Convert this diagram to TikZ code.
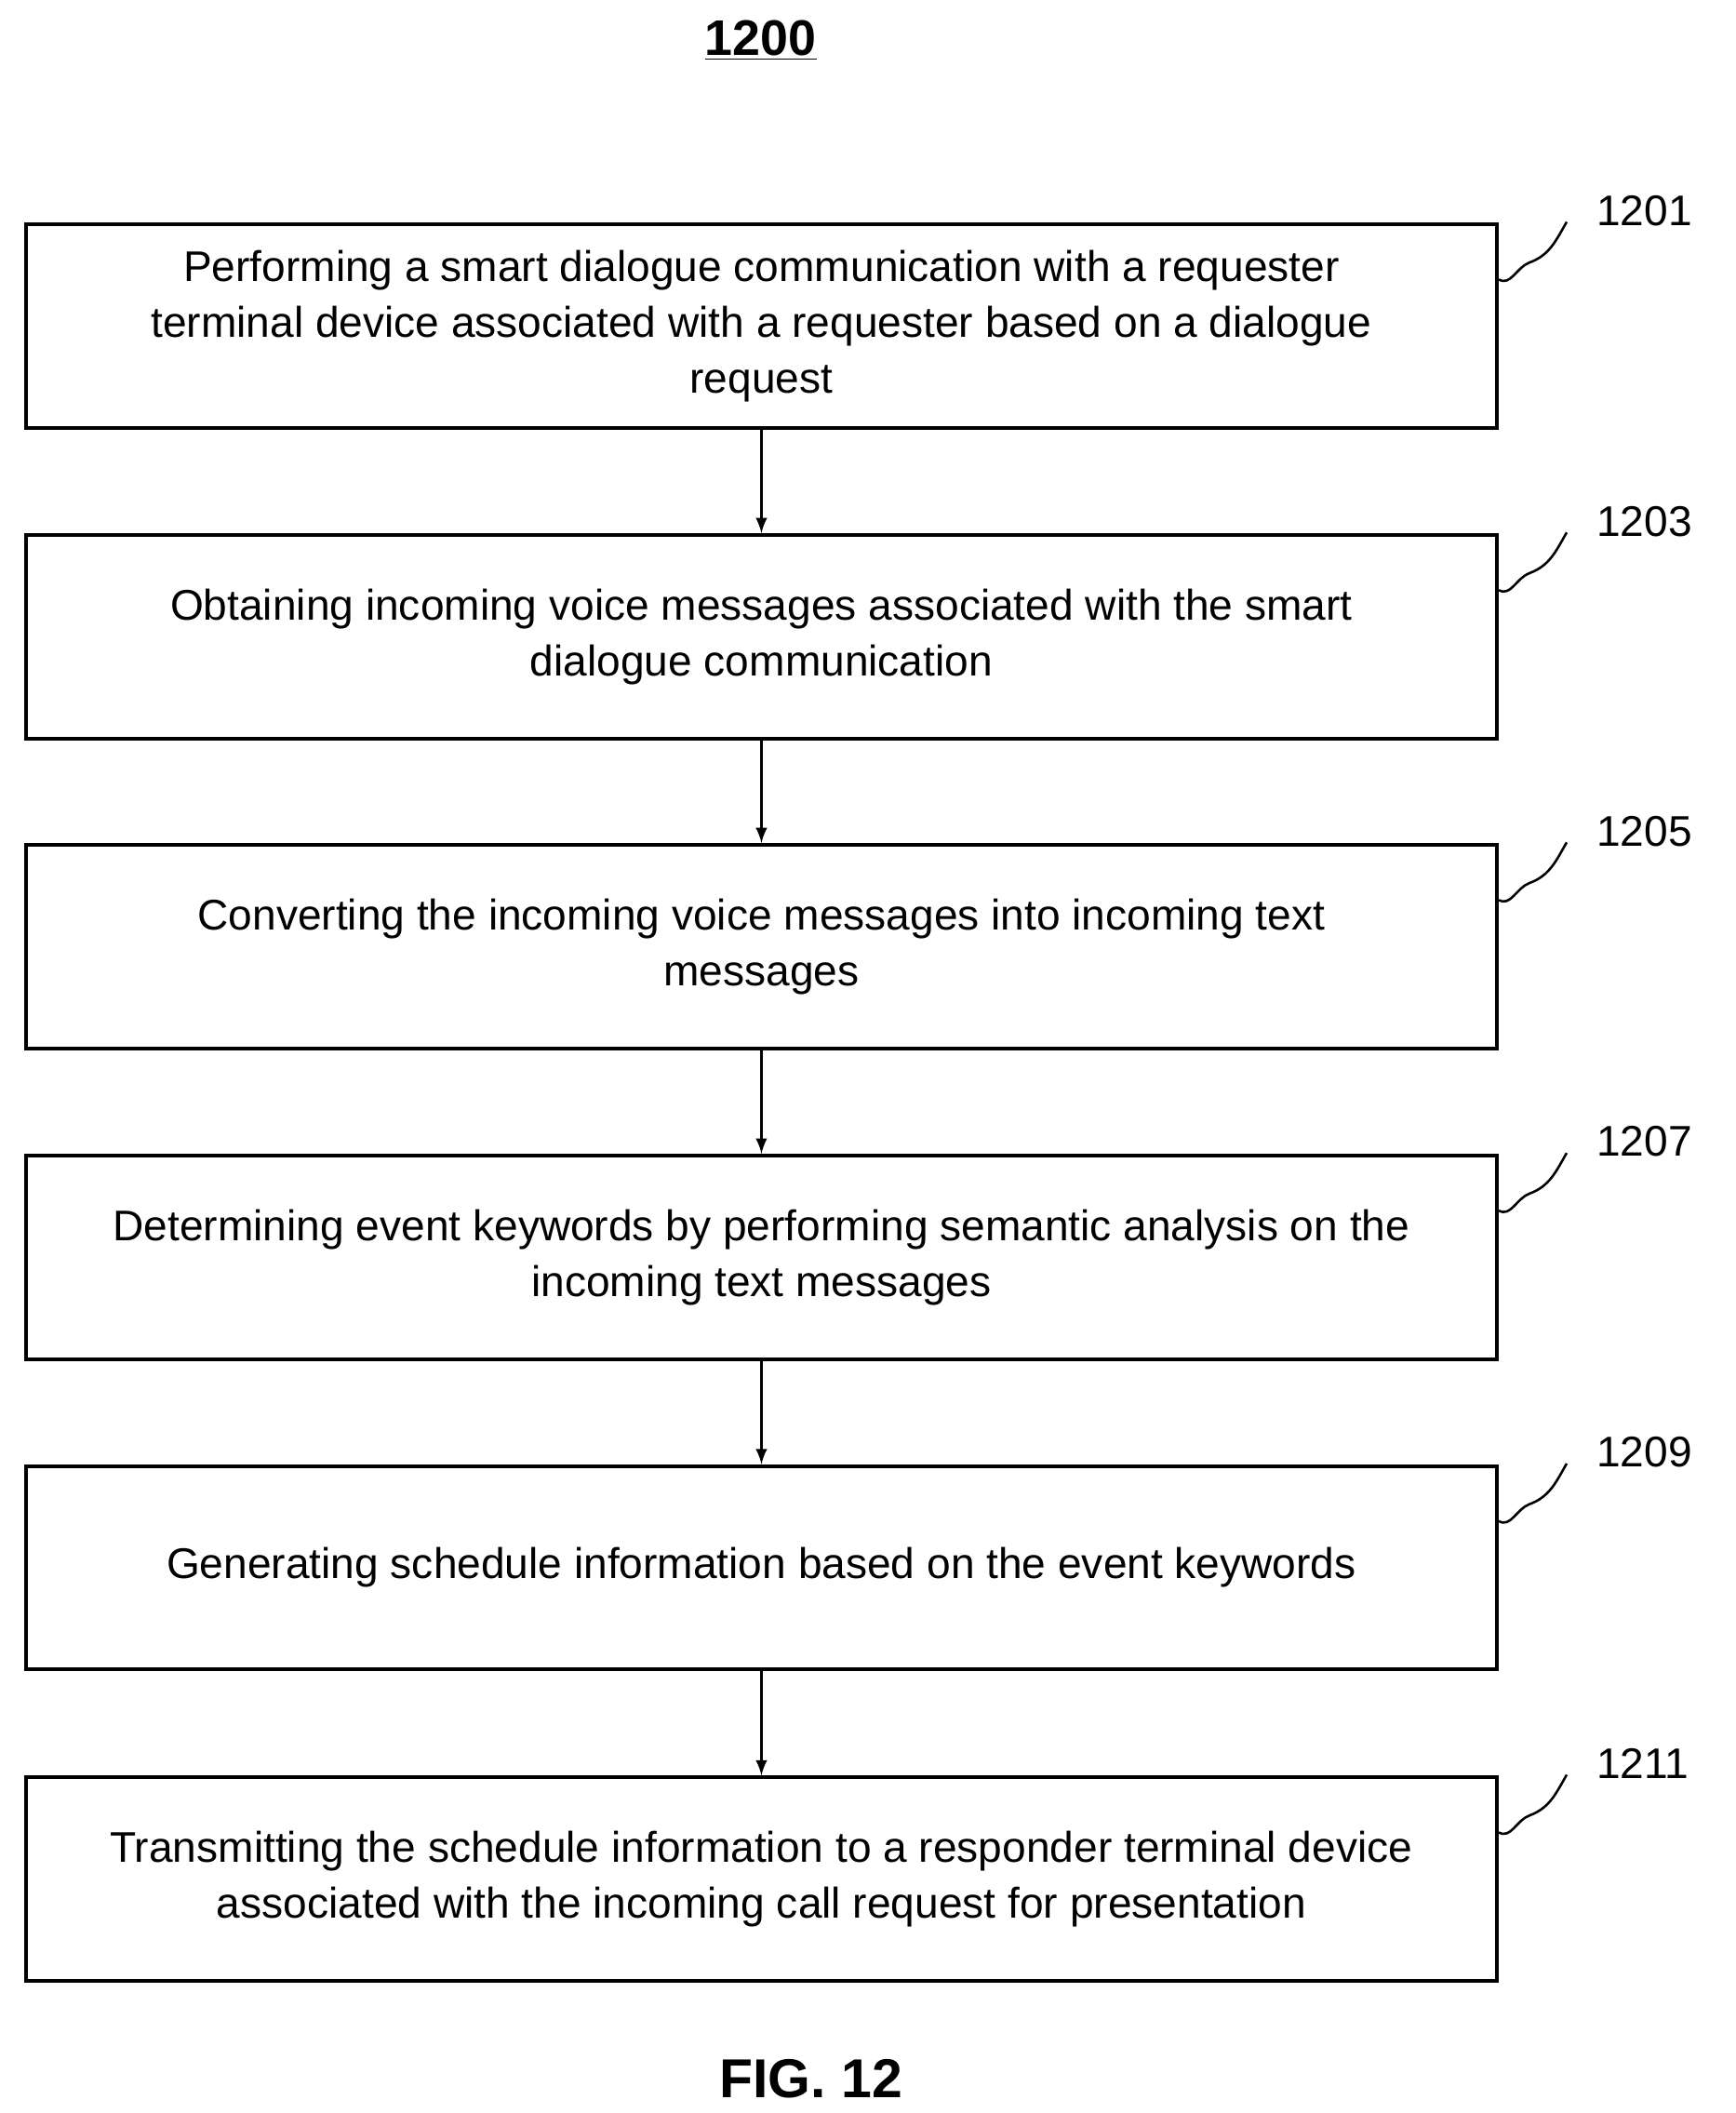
\documentclass[tikz,border=0pt]{standalone}
\usepackage{fontspec}
\setmainfont{Liberation Sans}
\usetikzlibrary{positioning}
\tikzset{
	stepbox/.style={draw, line width=1.6pt, minimum width=21.7cm, minimum height=3.0cm,
		align=center, font=\fontsize{18}{23.5}\selectfont},
	flow/.style={-latex, line width=1.2pt},
	tag/.style={font=\fontsize{18}{20}\selectfont, anchor=south west, inner sep=1pt}
}
\begin{document}
\begin{tikzpicture}[x=0.02cm, y=-0.02cm]
	\useasboundingbox (0,0) rectangle (1280,1558);
	% Titel
	\node (title) at (561,30) {\fontsize{21}{24}\selectfont\bfseries\underline{1200}};
	% Schritte
	\node[stepbox] (s1) at (561.5,240.5) {Performing a smart dialogue communication with a requester\\terminal device associated with a requester based on a dialogue\\request};
	\node[stepbox] (s3) at (561.5,469.5) {Obtaining incoming voice messages associated with the smart\\dialogue communication};
	\node[stepbox] (s5) at (561.5,698) {Converting the incoming voice messages into incoming text\\messages};
	\node[stepbox] (s7) at (561.5,927) {Determining event keywords by performing semantic analysis on the\\incoming text messages};
	\node[stepbox] (s9) at (561.5,1156) {Generating schedule information based on the event keywords};
	\node[stepbox] (s11) at (561.5,1385.5) {Transmitting the schedule information to a responder terminal device\\associated with the incoming call request for presentation};
	% Pfeile
	\foreach \a/\b in {s1/s3, s3/s5, s5/s7, s7/s9, s9/s11}
		\draw[flow] (\a) -- (\b);
	% Nummern mit Wellenlinie
	\foreach \s/\n in {s1/1201, s3/1203, s5/1205, s7/1207, s9/1209, s11/1211} {
		\coordinate (\s w) at ([yshift=-0.84cm]\s.north east);
		\draw[line width=1pt] (\s w) to[out=-30,in=200] ([shift={(0.45cm,0.25cm)}]\s w)
			to[out=20,in=240] ([shift={(1.0cm,0.85cm)}]\s w) coordinate (\s e);
		\node[tag] (\s l) at ([shift={(0.4cm,-0.1cm)}]\s e) {\n};
	}
	% Bildunterschrift
	\node (fig) at (598,1533) {\fontsize{23}{26}\selectfont\bfseries FIG. 12};
\end{tikzpicture}
\end{document}
